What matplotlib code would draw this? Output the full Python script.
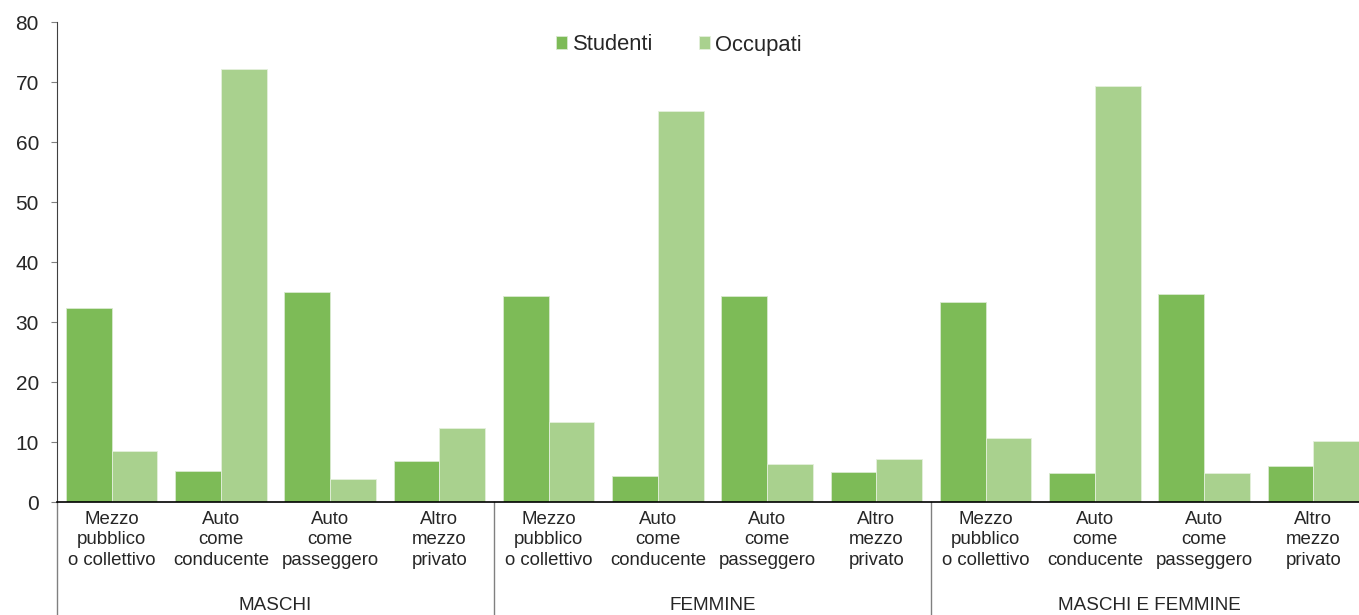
import matplotlib
matplotlib.use("Agg")
import matplotlib.pyplot as plt
import numpy as np

plt.rcParams['font.family'] = ['Liberation Sans', 'DejaVu Sans']

groups = ["MASCHI", "FEMMINE", "MASCHI E FEMMINE"]
categories = ["Mezzo\npubblico\no collettivo", "Auto\ncome\nconducente",
              "Auto\ncome\npasseggero", "Altro\nmezzo\nprivato"]
studenti = [32.4, 5.1, 35.0, 6.9,
            34.3, 4.4, 34.3, 5.0,
            33.3, 4.8, 34.7, 6.0]
occupati = [8.5, 72.2, 3.9, 12.4,
            13.4, 65.2, 6.4, 7.2,
            10.6, 69.3, 4.9, 10.2]
series_names = ["Studenti", "Occupati"]
yticks = [0, 10, 20, 30, 40, 50, 60, 70, 80]

c_stud = "#7DBB57"
c_occ = "#A9D18E"
txt = "#262626"

fig = plt.figure(figsize=(13.59, 6.15), dpi=100)
ax = fig.add_axes([57/1359, 1-502/615, (1368-57)/1359, 480/615])

n = len(studenti)
x = np.arange(n) + 0.5
w = 0.418
ax.bar(x - w/2, studenti, width=w, color=c_stud, edgecolor="#d9ead0", linewidth=0.6, label=series_names[0])
ax.bar(x + w/2, occupati, width=w, color=c_occ, edgecolor="#e4f0dc", linewidth=0.6, label=series_names[1])

ax.set_xlim(0, n)
ax.set_ylim(0, 80)
ax.set_yticks(yticks)
ax.tick_params(axis='y', direction='out', length=4.5, color='#808080', labelsize=15,
               labelcolor=txt, pad=8.5)
ax.set_xticks([])
for s in ['top', 'right']:
    ax.spines[s].set_visible(False)
ax.spines['left'].set_color('#404040')
ax.spines['bottom'].set_color('#000000')
ax.spines['bottom'].set_linewidth(1.2)

trans = ax.get_xaxis_transform()
# category labels
for i in range(n):
    ax.text(x[i], -0.018, categories[i % 4], transform=trans, ha='center', va='top',
            fontsize=13.4, color=txt, linespacing=1.28)
# group labels
for g, name in enumerate(groups):
    ax.text(g*4 + 2, -0.215, name, transform=trans, ha='center', va='center',
            fontsize=13.6, color=txt)
# group dividers
for g in range(len(groups) + 1):
    ax.plot([g*4, g*4], [0, -0.24], transform=trans, color='#808080', linewidth=1.0,
            clip_on=False)

fig.legend(loc='center', bbox_to_anchor=(679/1359, 1-45/615), ncol=2, frameon=False,
           fontsize=15.8, handlelength=0.5, handleheight=0.5, handletextpad=0.25,
           columnspacing=2.1, labelcolor=txt)

fig.savefig("out.png", dpi=100)
